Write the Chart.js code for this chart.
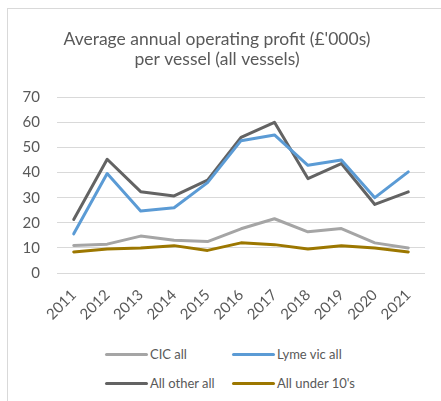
<!DOCTYPE html>
<html lang="en">
<head>
    <meta charset="UTF-8">
    <title>Average annual operating profit per vessel</title>
    <script src="https://cdn.jsdelivr.net/npm/chart.js"></script>
    <style>
        html, body {
            margin: 0;
            padding: 0;
            background: #fff;
            overflow: hidden;
        }
        .frame {
            position: absolute;
            left: 7px;
            top: 8px;
            width: 450px;
            height: 410px;
            border-left: 1px solid #d9d9d9;
            border-top: 1px solid #d9d9d9;
        }
        .chart-container {
            position: absolute;
            left: 1px;
            top: 1px;
            width: 433px;
            height: 331px;
        }
        #legend {
            position: absolute;
            left: 97px;
            top: 337px;
            display: grid;
            grid-template-columns: 127px 140px;
            row-gap: 13px;
            font-family: Lato, "Noto Sans", sans-serif;
            font-size: 13px;
            color: #595959;
        }
        .legend-item {
            display: flex;
            align-items: center;
            height: 16px;
            white-space: nowrap;
        }
        .legend-line {
            width: 43px;
            height: 3px;
            border-radius: 2px;
            margin-right: 2px;
        }
    </style>
</head>
<body>
    <div class="frame">
        <div class="chart-container">
            <canvas id="profitChart"></canvas>
        </div>
        <div id="legend"></div>
    </div>
    <script>
        const years = ['2011', '2012', '2013', '2014', '2015', '2016', '2017', '2018', '2019', '2020', '2021'];

        const cicAll = [11, 11.5, 14.7, 13, 12.5, 17.6, 21.6, 16.4, 17.7, 12, 10];
        const lymeVicAll = [15.6, 39.6, 24.7, 26, 36, 52.7, 55, 42.9, 45, 30, 40.3];
        const allOtherAll = [21.3, 45.3, 32.4, 30.7, 37, 54, 60, 37.6, 43.6, 27.3, 32.3];
        const allUnder10s = [8.4, 9.6, 10, 10.9, 9, 12, 11.3, 9.6, 10.9, 10, 8.4];

        const seriesNames = ['CIC all', 'Lyme vic all', 'All other all', "All under 10's"];
        const seriesColors = ['#a5a5a5', '#5b9bd5', '#636363', '#9c7700'];

        const textColor = '#595959';
        const fontFamily = 'Lato, "Noto Sans", sans-serif';

        function makeDataset(label, values, color) {
            return {
                label: label,
                data: values,
                borderColor: color,
                backgroundColor: color,
                borderWidth: 3,
                pointRadius: 0,
                tension: 0,
                borderJoinStyle: 'round',
                borderCapStyle: 'round'
            };
        }

        // order matters for drawing: later datasets on top
        const datasets = [
            makeDataset(seriesNames[0], cicAll, seriesColors[0]),
            makeDataset(seriesNames[1], lymeVicAll, seriesColors[1]),
            makeDataset(seriesNames[2], allOtherAll, seriesColors[2]),
            makeDataset(seriesNames[3], allUnder10s, seriesColors[3])
        ];

        function buildLegend(chart) {
            const box = document.getElementById('legend');
            box.innerHTML = '';
            chart.data.datasets.forEach(ds => {
                const item = document.createElement('div');
                item.className = 'legend-item';
                const line = document.createElement('span');
                line.className = 'legend-line';
                line.style.background = ds.borderColor;
                const text = document.createElement('span');
                text.textContent = ds.label;
                item.appendChild(line);
                item.appendChild(text);
                box.appendChild(item);
            });
        }

        const ctx = document.getElementById('profitChart').getContext('2d');
        const chart = new Chart(ctx, {
            type: 'line',
            data: { labels: years, datasets },
            options: {
                responsive: true,
                maintainAspectRatio: false,
                animation: false,
                layout: { padding: { left: 0, right: 17, top: 0, bottom: 0 } },
                scales: {
                    x: {
                        offset: true,
                        grid: { display: false, drawTicks: false },
                        border: { display: false },
                        ticks: {
                            color: textColor,
                            font: { family: fontFamily, size: 15 },
                            minRotation: 45,
                            maxRotation: 45,
                            padding: 13,
                            autoSkip: false
                        },
                        afterFit: scale => { scale.height = 68; }
                    },
                    y: {
                        min: 0,
                        max: 70,
                        grid: { color: '#d9d9d9', lineWidth: 1, drawTicks: false },
                        border: { display: false },
                        ticks: {
                            stepSize: 10,
                            color: textColor,
                            font: { family: fontFamily, size: 15 },
                            padding: 17
                        },
                        afterFit: scale => { scale.width = 48; }
                    }
                },
                plugins: {
                    legend: { display: false },
                    tooltip: { enabled: false },
                    title: {
                        display: true,
                        text: ["Average annual operating profit (£'000s)", 'per vessel (all vessels)'],
                        color: textColor,
                        font: { family: fontFamily, size: 17.5, weight: 'normal', lineHeight: 1.15 },
                        padding: { top: 19, bottom: 28 }
                    }
                }
            }
        });
        buildLegend(chart);
    </script>
</body>
</html>
